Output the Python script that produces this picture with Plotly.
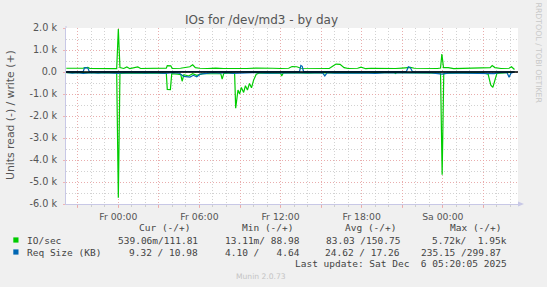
import plotly.graph_objects as go

# ---------------- data (hours relative to Fr 00:00) ----------------
io_write_t = [-3.85, -3.5, -3.0, -2.6, -2.45, -2.25, -2.1, -1.6, -1.2, -0.8, -0.4, -0.12, 0.0, 0.12, 0.4, 0.63, 0.85, 1.44, 1.65, 2.1, 2.6, 3.0, 3.4, 3.55, 3.62, 3.88, 3.98, 4.6, 5.29, 5.5, 5.7, 6.0, 6.6, 7.2, 7.8, 8.4, 8.9, 9.5, 10.2, 10.8, 11.4, 12.0, 12.6, 12.85, 13.2, 13.5, 14.2, 14.8, 15.4, 15.6, 15.85, 16.1, 16.4, 16.7, 17.0, 17.7, 17.95, 18.3, 18.7, 19.3, 19.9, 20.5, 21.0, 21.3, 21.6, 21.9, 22.5, 23.1, 23.6, 23.83, 23.93, 24.05, 24.4, 24.8, 25.4, 26.0, 26.6, 27.3, 27.5, 27.65, 27.85, 28.3, 28.9, 29.08, 29.3]
io_write_v = [170, 160, 170, 180, 200, 210, 160, 160, 170, 155, 165, 150, 1950, 200, 160, 230, 150, 230, 160, 170, 180, 160, 170, 175, 290, 280, 160, 170, 240, 330, 200, 170, 160, 180, 160, 150, 170, 160, 180, 160, 170, 160, 170, 250, 240, 170, 160, 150, 170, 160, 260, 360, 350, 200, 160, 170, 220, 150, 170, 160, 170, 160, 180, 210, 210, 170, 160, 170, 160, 180, 820, 200, 200, 150, 160, 170, 160, 180, 200, 290, 200, 160, 170, 240, 112]

io_read_t = [-3.85, -3.0, -2.0, -1.0, -0.12, 0.0, 0.12, 1.0, 2.0, 3.0, 3.55, 3.62, 3.85, 3.95, 4.4, 4.62, 4.72, 4.85, 5.2, 5.5, 5.8, 6.3, 6.8, 7.4, 7.58, 7.68, 7.8, 8.3, 8.6, 8.68, 8.85, 8.97, 9.1, 9.27, 9.4, 9.55, 9.7, 9.85, 10.0, 10.2, 10.4, 11.0, 11.7, 12.0, 12.08, 12.2, 13.0, 14.0, 15.0, 16.0, 17.0, 18.0, 19.0, 20.4, 20.5, 20.6, 21.0, 22.0, 23.0, 23.83, 23.95, 24.07, 25.0, 26.0, 27.0, 27.35, 27.55, 27.7, 27.85, 28.0, 28.5, 29.3]
io_read_v = [30, 40, 30, 50, 40, 5720, 60, 40, 30, 50, 60, 790, 800, 80, 100, 120, 420, 120, 180, 80, 150, 60, 80, 60, 80, 320, 60, 40, 60, 1650, 820, 1000, 700, 930, 620, 820, 520, 720, 380, 100, 50, 40, 60, 50, 180, 40, 30, 50, 30, 40, 30, 40, 30, 20, 70, 20, 30, 40, 30, 50, 4670, 60, 40, 30, 40, 100, 600, 700, 400, 60, 40, 1]

rs_write_t = [-3.85, -3.0, -2.6, -2.5, -2.4, -2.25, -2.15, -1.0, 0.0, 2.0, 4.0, 6.0, 8.0, 10.0, 12.0, 13.4, 13.5, 13.6, 13.7, 15.0, 17.0, 19.0, 21.3, 21.45, 21.6, 21.75, 23.0, 25.0, 27.0, 29.3]
rs_write_v = [15, 16, 15, 190, 200, 180, 15, 17, 20, 16, 18, 15, 17, 16, 15, 18, 300, 260, 18, 16, 15, 17, 15, 240, 200, 15, 16, 17, 15, 11]

rs_read_t = [-3.85, -3.4, -3.0, -2.6, -2.0, -1.5, -1.0, -0.5, 0.0, 0.5, 1.0, 1.5, 2.0, 2.5, 3.0, 3.5, 4.0, 4.5, 4.84, 5.05, 5.3, 5.55, 5.8, 6.05, 6.5, 7.0, 7.5, 8.0, 8.5, 9.0, 10.0, 11.0, 12.0, 13.0, 14.0, 15.1, 15.27, 15.45, 16.0, 17.0, 18.0, 19.0, 20.0, 21.0, 22.0, 23.0, 23.95, 24.5, 25.5, 26.5, 27.5, 27.8, 28.2, 28.75, 28.9, 29.05, 29.3]
rs_read_v = [20, 50, 30, 60, 25, 50, 30, 55, 60, 25, 45, 30, 50, 25, 40, 60, 30, 50, 200, 210, 230, 150, 220, 100, 80, 30, 50, 30, 60, 40, 30, 50, 40, 30, 50, 30, 180, 30, 50, 30, 40, 60, 30, 40, 50, 30, 100, 40, 50, 60, 40, 70, 30, 30, 235, 40, 9]

x_tick_hours = [-3, 0, 3, 6, 9, 12, 15, 18, 21, 24, 27]
x_tick_labels = ["", "Fr 00:00", "", "Fr 06:00", "", "Fr 12:00", "", "Fr 18:00", "", "Sa 00:00", ""]
y_tick_vals = [2000, 1000, 0, -1000, -2000, -3000, -4000, -5000, -6000]
y_tick_labels = ["2.0 k", "1.0 k", "0.0", "-1.0 k", "-2.0 k", "-3.0 k", "-4.0 k", "-5.0 k", "-6.0 k"]

series_names = ["IO/sec", "Req Size (KB)"]
series_colors = ["#00CC00", "#0066B3"]
col_headers = ["Cur (-/+)", "Min (-/+)", "Avg (-/+)", "Max (-/+)"]
row_values = [
    ["539.06m/111.81", "13.11m/ 88.98", "83.03 /150.75", "5.72k/  1.95k"],
    ["9.32 / 10.98", "4.10 /   4.64", "24.62 / 17.26", "235.15 /299.87"],
]
last_update = "Last update: Sat Dec  6 05:20:05 2025"

# ---------------- geometry ----------------
W, H = 547, 287
L, R, T, B = 66, 29, 28, 83
PW, PH = W - L - R, H - T - B


def pxx(x):
    return (x - L) / PW


def pxy(y):
    return (H - B - y) / PH


GREEN, BLUE = series_colors
fig = go.Figure()
fig.add_trace(go.Scatter(x=io_read_t, y=[-v for v in io_read_v], mode="lines",
                         line=dict(color=GREEN, width=1.2), hoverinfo="skip"))
fig.add_trace(go.Scatter(x=io_write_t, y=io_write_v, mode="lines",
                         line=dict(color=GREEN, width=1.2), hoverinfo="skip"))
fig.add_trace(go.Scatter(x=rs_read_t, y=[-v for v in rs_read_v], mode="lines",
                         line=dict(color=BLUE, width=1.2), hoverinfo="skip"))
fig.add_trace(go.Scatter(x=rs_write_t, y=rs_write_v, mode="lines",
                         line=dict(color=BLUE, width=1.2), hoverinfo="skip"))
fig.add_hline(y=0, line=dict(color="black", width=1.4))

MAJ = "rgba(240,160,160,0.75)"
MIN = "rgba(195,195,195,0.75)"
AXC = "#C8C8E6"
TXT = "#555555"

fig.update_xaxes(
    range=[-3.87, 29.56], tickmode="array", tickvals=x_tick_hours, ticktext=x_tick_labels,
    showgrid=True, gridcolor=MAJ, griddash="1px,2px", gridwidth=1,
    minor=dict(tickmode="linear", tick0=0, dtick=1, showgrid=True, gridcolor=MIN,
               griddash="1px,2px", ticks="outside", ticklen=2, tickcolor=MIN),
    ticks="outside", ticklen=3, tickcolor=MAJ,
    showline=True, linecolor=AXC, linewidth=1, zeroline=False,
    tickfont=dict(family="DejaVu Sans", size=9.3, color=TXT), ticklabelstandoff=1,
    fixedrange=True,
)
fig.update_yaxes(
    range=[-6000, 2000], tickmode="array", tickvals=y_tick_vals, ticktext=y_tick_labels,
    showgrid=True, gridcolor=MAJ, griddash="1px,2px", gridwidth=1,
    minor=dict(tickmode="linear", tick0=0, dtick=500, showgrid=True, gridcolor=MIN,
               griddash="1px,2px"),
    ticks="outside", ticklen=2, tickcolor=MAJ,
    showline=True, linecolor=AXC, linewidth=1, zeroline=False,
    tickfont=dict(family="DejaVu Sans", size=9.7, color=TXT), ticklabelstandoff=4,
    fixedrange=True,
)

shapes = [
    # axis arrows
    dict(type="path", xref="paper", yref="paper",
         path=f"M {pxx(63.5)} {pxy(26.5)} L {pxx(68.5)} {pxy(26.5)} L {pxx(66)} {pxy(20)} Z",
         fillcolor=AXC, line=dict(width=0)),
    dict(type="line", xref="paper", yref="paper", x0=pxx(66), x1=pxx(66), y0=pxy(28), y1=pxy(26),
         line=dict(color=AXC, width=1)),
    dict(type="path", xref="paper", yref="paper",
         path=f"M {pxx(518)} {pxy(201.5)} L {pxx(518)} {pxy(206.5)} L {pxx(524)} {pxy(204)} Z",
         fillcolor=AXC, line=dict(width=0)),
]
annotations = []

# title & axis title
annotations.append(dict(text="IOs for /dev/md3 - by day", x=pxx(261), y=pxy(20), xref="paper", yref="paper",
                        showarrow=False, xanchor="center", yanchor="middle",
                        font=dict(family="DejaVu Sans", size=12, color=TXT)))
annotations.append(dict(text="Units read (-) / write (+)", x=pxx(11), y=pxy(115), xref="paper", yref="paper",
                        showarrow=False, xanchor="center", yanchor="middle", textangle=-90,
                        font=dict(family="DejaVu Sans", size=10.8, color=TXT)))
annotations.append(dict(text="RRDTOOL / TOBI OETIKER", x=pxx(538.5), y=pxy(53), xref="paper", yref="paper",
                        showarrow=False, xanchor="center", yanchor="middle", textangle=90,
                        font=dict(family="DejaVu Sans", size=7.8, color="#C8C8C8")))
annotations.append(dict(text="Munin 2.0.73", x=pxx(260.5), y=pxy(276.3), xref="paper", yref="paper",
                        showarrow=False, xanchor="center", yanchor="middle",
                        font=dict(family="DejaVu Sans", size=7.6, color="#C4C4C4")))

MONO = dict(family="DejaVu Sans Mono", size=9.5, color="#444444")
header_right = [191.7, 295, 398.3, 502.7]
value_right = [[200, 301.7, 401.7, 509], [200, 301.7, 401.7, 503.3]]
row_y = [240, 252]
for hdr, xr in zip(col_headers, header_right):
    annotations.append(dict(text=hdr, x=pxx(xr), y=pxy(227.3), xref="paper", yref="paper",
                            showarrow=False, xanchor="right", yanchor="middle", font=MONO))
for i, name in enumerate(series_names):
    yy = row_y[i]
    shapes.append(dict(type="rect", xref="paper", yref="paper",
                       x0=pxx(13.3), x1=pxx(18.5), y0=pxy(yy - 2.6), y1=pxy(yy + 2.6),
                       fillcolor=series_colors[i], line=dict(width=0)))
    annotations.append(dict(text=name.replace(" ", "&nbsp;"), x=pxx(25), y=pxy(yy), xref="paper", yref="paper",
                            showarrow=False, xanchor="left", yanchor="middle", font=MONO))
    for val, xr in zip(row_values[i], value_right[i]):
        annotations.append(dict(text=val.replace(" ", "&nbsp;"), x=pxx(xr), y=pxy(yy), xref="paper", yref="paper",
                                showarrow=False, xanchor="right", yanchor="middle", font=MONO))
annotations.append(dict(text=last_update.replace(" ", "&nbsp;"), x=pxx(509), y=pxy(263.5), xref="paper", yref="paper",
                        showarrow=False, xanchor="right", yanchor="middle", font=MONO))

fig.update_layout(
    width=W, height=H, autosize=False,
    margin=dict(l=L, r=R, t=T, b=B, pad=0),
    paper_bgcolor="#F0F0F0", plot_bgcolor="#FFFFFF",
    showlegend=False, shapes=shapes, annotations=annotations,
)
fig.write_html("out.html", config={"displayModeBar": False})
